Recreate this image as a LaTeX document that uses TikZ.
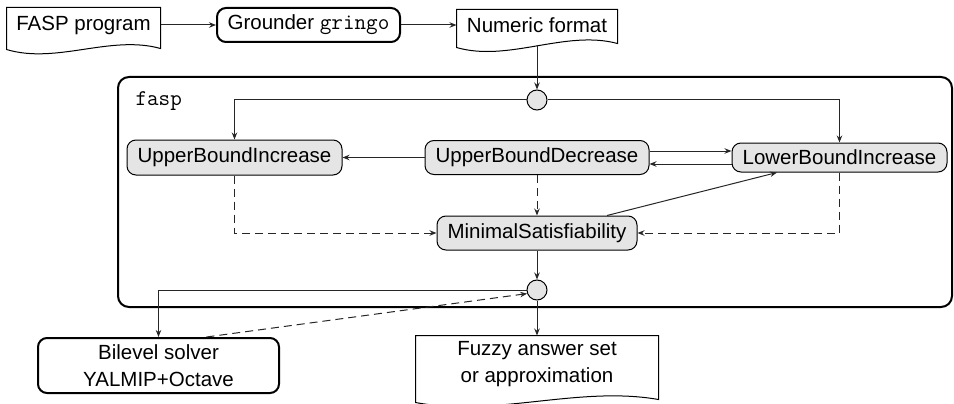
\documentclass[tikz,border=0pt]{standalone}
\usepackage{fontspec}
\setmainfont{Liberation Sans}
\usetikzlibrary{arrows.meta,calc}
\newcommand\docoutline[4]{%
  \draw[line width=1pt] (#1.north west) -- (#1.north east) -- ([yshift=-#2pt]#1.south east)
    .. controls +(-#4,-14) and +(#4,15) .. ([yshift=-#3pt]#1.south west) -- cycle;}
\newcommand\mono[1]{{\fontsize{22.5}{26}\ttfamily #1}}
\begin{document}
\begin{tikzpicture}[x=1pt,y=-1pt,
  font=\fontsize{20.5}{26.5}\selectfont,
  line width=1pt,
  arr/.style={-{Stealth[length=7pt,width=5.5pt]}},
  conn/.style={draw=black!85, line width=1pt, arr},
  dconn/.style={conn, dash pattern=on 8pt off 5pt},
  docnode/.style={inner sep=0pt, align=center},
  proc/.style={draw, line width=2pt, rounded corners=9pt, inner sep=0pt, align=center},
  container/.style={draw, line width=2pt, rounded corners=11pt, inner sep=0pt},
  statebox/.style={draw, fill=black!10, rounded corners=9pt, inner sep=0pt, line width=1pt},
  junction/.style={circle, draw, fill=black!10, minimum size=20pt, inner sep=0pt, line width=1pt},
]
\useasboundingbox (0,0) rectangle (954,404);

% top row
\node[docnode, minimum width=153pt, minimum height=34pt] (fasp) at (83.5,25) {FASP program};
\docoutline{fasp}{6}{7}{50}
\node[proc, minimum width=183pt, minimum height=34pt] (grounder) at (308.5,25) {Grounder \mono{gringo}};
\node[docnode, minimum width=160pt, minimum height=30pt] (numeric) at (537,25) {Numeric format};
\docoutline{numeric}{3}{7}{52}

% container
\node[container, minimum width=834pt, minimum height=230pt] (box) at (535,192) {};
\node[anchor=base west, inner sep=0pt] (lbl) at (135,106) {\mono{fasp}};

\node[junction] (c1) at (537,100) {};
\node[statebox, minimum width=215pt, minimum height=35pt] (ubi) at (234.5,157.5) {UpperBoundIncrease};
\node[statebox, minimum width=224pt, minimum height=34pt] (ubd) at (537,157.5) {UpperBoundDecrease};
\node[statebox, minimum width=215pt, minimum height=29pt] (lbi) at (839.5,157.5) {LowerBoundIncrease};
\node[statebox, minimum width=200pt, minimum height=34pt] (ms) at (537,233) {MinimalSatisfiability};
\node[junction] (c2) at (537,290) {};

% bottom
\node[proc, minimum width=241pt, minimum height=55pt] (bilevel) at (158.5,365.5) {Bilevel solver\\YALMIP+Octave};
\node[docnode, minimum width=242pt, minimum height=56pt] (fuzzy) at (537,364) {Fuzzy answer set\\or approximation};
\docoutline{fuzzy}{7}{10}{80}

% connectors
\draw[conn] (fasp.east) -- (grounder.west);
\draw[conn] (grounder.east) -- (numeric.west);
\draw[conn] ([yshift=-5pt]numeric.south) -- (c1.north);
\draw[conn] (c1.west) -| (ubi.north);
\draw[conn] (c1.east) -| (lbi.north);
\draw[conn] (ubd.west) -- (ubi.east);
\draw[conn] ([yshift=6.5pt]ubd.east) -- ([yshift=6.5pt]lbi.west);
\draw[conn] ([yshift=-6.5pt]lbi.west) -- ([yshift=-6.5pt]ubd.east);
\draw[dconn] (ubd.south) -- (ms.north);
\draw[dconn] (ubi.south) |- (ms.west);
\draw[dconn] (lbi.south) |- (ms.east);
\draw[conn] ([xshift=70pt]ms.north) -- ([xshift=-62.5pt]lbi.south);
\draw[conn] (ms.south) -- (c2.north);
\draw[conn] (c2.south) -- (fuzzy.north);
\draw[conn] (c2.west) -| (bilevel.north);
\draw[dconn] ([xshift=48pt]bilevel.north) -- (c2.200);
\end{tikzpicture}
\end{document}
